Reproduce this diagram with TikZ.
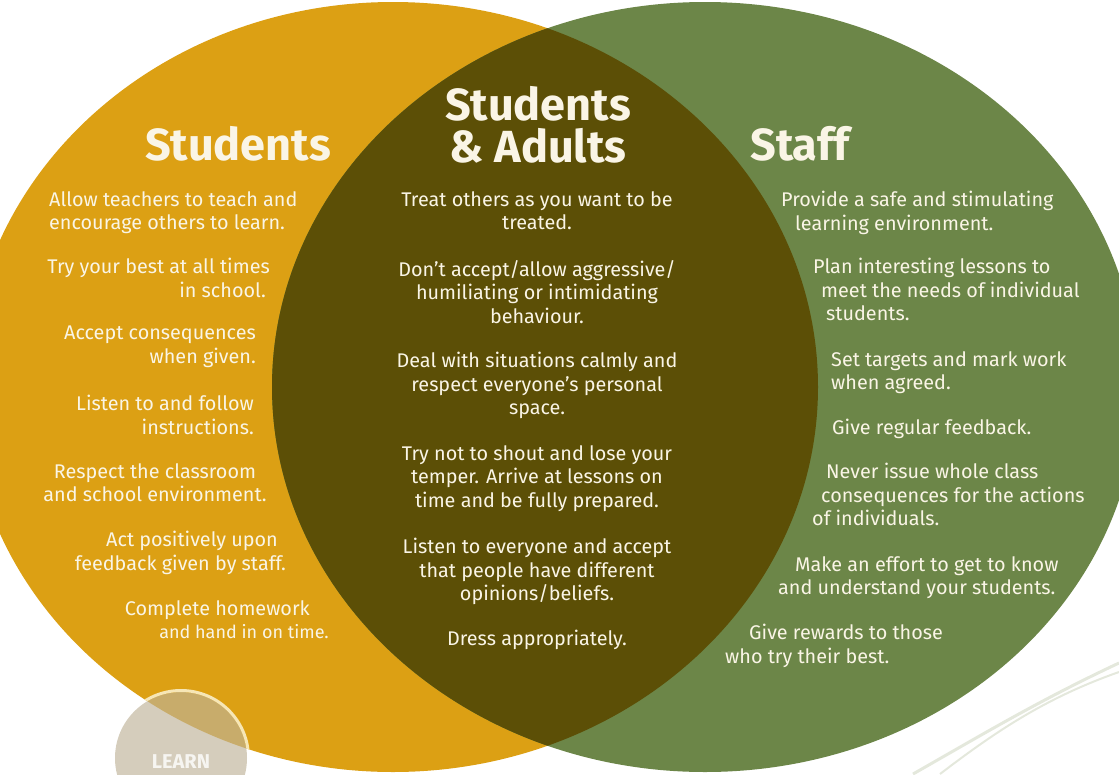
\documentclass[tikz,border=0pt]{standalone}
\usepackage{fontspec}
\setmainfont{Fira Sans}
\definecolor{goldfill}{RGB}{220,160,20}
\definecolor{sagefill}{RGB}{108,134,72}
\definecolor{olivefill}{RGB}{92,79,6}
\definecolor{creamtext}{RGB}{250,245,230}
\definecolor{learnbeige}{RGB}{191,179,153}
\definecolor{learnrim}{RGB}{246,230,182}
\definecolor{swirl}{RGB}{228,232,220}
\tikzset{
  venn head/.style={text=creamtext, inner sep=0pt,
    font=\bfseries\fontsize{45}{42}\selectfont},
  venn item/.style={text=creamtext, inner sep=0pt,
    font=\fontsize{19.8}{23.5}\selectfont},
  learn label/.style={text=white, text opacity=0.8, inner sep=0pt,
    font=\bfseries\fontsize{20}{20}\selectfont},
}
\begin{document}
\begin{tikzpicture}[x=1pt,y=-1pt]
  \useasboundingbox (0,0) rectangle (1119,774);
  \clip (0,0) rectangle (1119,774);
  \pgfmathsetmacro{\ry}{385}
  % the two sets and their overlap
  \fill[goldfill] (393,387) ellipse [x radius=425pt, y radius=\ry pt];
  \fill[sagefill] (705,387) ellipse [x radius=433pt, y radius=\ry pt];
  \begin{scope}
    \clip (393,387) ellipse [x radius=425pt, y radius=\ry pt];
    \fill[olivefill] (705,387) ellipse [x radius=433pt, y radius=\ry pt];
  \end{scope}

  % badge bottom left
  \fill[learnbeige, fill opacity=0.66] (181,758) circle [radius=66pt];
  \begin{scope}
    \clip (393,387) ellipse [x radius=425pt, y radius=\ry pt];
    \draw[learnrim, line width=3pt] (181,758) circle [radius=67.5pt];
  \end{scope}
  \node[learn label, anchor=base] (learn) at (181,768) {LEARN};

  % swirls bottom right
  \draw[swirl, line width=3pt] (913,774) .. controls (985,733) and (1040,700) .. (1119,663);
  \draw[swirl, line width=2pt] (940,774) .. controls (995,732) and (1045,698) .. (1119,672);

  % headings
  \node[venn head, anchor=base] (hstud) at (238,160) {Students};
  \node[venn head, anchor=north, align=center] (hboth) at (538,86) {Students\\\& Adults};
  \node[venn head, anchor=base] (hstaff) at (800,160) {Staff};

  % students
  \node[venn item, anchor=north west, align=left] (s1) at (49,191)
    {Allow teachers to teach and\\encourage others to learn.};
  \node[venn item, anchor=north east, align=right] (s2) at (270,258)
    {Try your best at all times\\in school.\hspace*{4pt}};
  \node[venn item, anchor=north east, align=right] (s3) at (256,326)
    {Accept consequences\\when given.};
  \node[venn item, anchor=north east, align=right] (s4) at (254,395)
    {Listen to and follow\\instructions.};
  \node[venn item, anchor=north, align=center] (s5) at (155,463)
    {Respect the classroom\\and school environment.};
  \node[venn item, anchor=north east, align=right] (s6) at (286,531)
    {Act positively upon\hspace*{8pt}\\feedback given by staff.};
  \node[venn item, anchor=north east, align=right] (s7) at (329,600)
    {Complete homework\hspace*{19pt}\\{\fontsize{18}{23}\selectfont and hand in on time.}};

  % students & adults
  \node[venn item, anchor=north, align=center] (b1) at (537,191)
    {Treat others as you want to be\\treated.};
  \node[venn item, anchor=north, align=center] (b2) at (537,260)
    {Don’t accept/allow aggressive/\\humiliating or intimidating\\behaviour.};
  \node[venn item, anchor=north, align=center] (b3) at (537,352)
    {Deal with situations calmly and\\respect everyone’s personal\\space.};
  \node[venn item, anchor=north, align=center] (b4) at (537,445)
    {Try not to shout and lose your\\temper. Arrive at lessons on\\time and be fully prepared.};
  \node[venn item, anchor=north, align=center] (b5) at (537,538)
    {Listen to everyone and accept\\that people have different\\opinions/beliefs.};
  \node[venn item, anchor=north, align=center] (b6) at (537,630)
    {Dress appropriately.};

  % staff
  \node[venn item, anchor=north west, align=left] (t1) at (781,191)
    {Provide a safe and stimulating\\\hspace*{14pt}learning environment.};
  \node[venn item, anchor=north west, align=left] (t2) at (813,258)
    {Plan interesting lessons to\\\hspace*{8pt}meet the needs of individual\\\hspace*{13pt}students.};
  \node[venn item, anchor=north west, align=left] (t3) at (831,351)
    {Set targets and mark work\\when agreed.};
  \node[venn item, anchor=north west, align=left] (t4) at (832,419)
    {Give regular feedback.};
  \node[venn item, anchor=north west, align=left] (t5) at (812,463)
    {\hspace*{14pt}Never issue whole class\\\hspace*{9pt}consequences for the actions\\of individuals.};
  \node[venn item, anchor=north west, align=left] (t6) at (778,556)
    {\hspace*{17pt}Make an effort to get to know\\and understand your students.};
  \node[venn item, anchor=north west, align=left] (t7) at (725,624)
    {\hspace*{24pt}Give rewards to those\\who try their best.};
\end{tikzpicture}
\end{document}
